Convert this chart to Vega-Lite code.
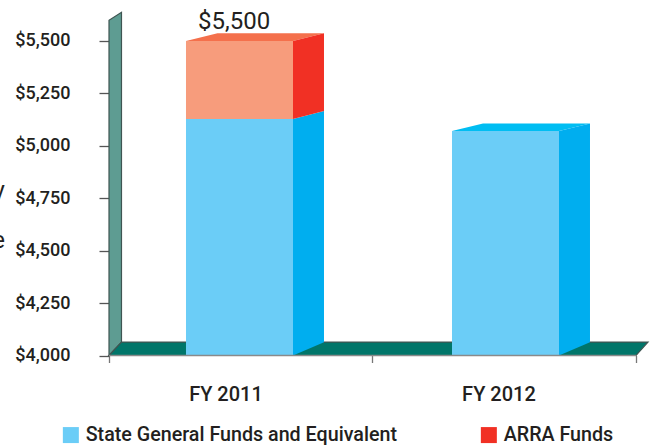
{"$schema":"https://vega.github.io/schema/vega-lite/v6.json","width":657,"height":446,"autosize":{"type":"none"},"padding":0,"background":"#ffffff","view":{"stroke":null},
"datasets":{
"vertical":[
{"face":"s1-side","part":"State side","x":0.6983,"low":4000,"high":5128},{"face":"s1-side","part":"State side","x":0.8159,"low":4063,"high":5166},
{"face":"a1-side","part":"ARRA Funds","x":0.6983,"low":5128,"high":5500},{"face":"a1-side","part":"ARRA Funds","x":0.8159,"low":5166,"high":5537},
{"face":"s2-side","part":"State side","x":1.7078,"low":4000,"high":5071},{"face":"s2-side","part":"State side","x":1.8254,"low":4063,"high":5107},
{"face":"s1-front","part":"State General Funds and Equivalent","x":0.2922,"low":4000,"high":5128},{"face":"s1-front","part":"State General Funds and Equivalent","x":0.6983,"low":4000,"high":5128},
{"face":"a1-front","part":"ARRA front","x":0.2922,"low":5128,"high":5500},{"face":"a1-front","part":"ARRA front","x":0.6983,"low":5128,"high":5500},
{"face":"s2-front","part":"State General Funds and Equivalent","x":1.3017,"low":4000,"high":5071},{"face":"s2-front","part":"State General Funds and Equivalent","x":1.7078,"low":4000,"high":5071}
],
"tops":[
{"face":"a1-top","part":"ARRA top","left":0.2922,"right":0.6983,"v":5500},{"face":"a1-top","part":"ARRA top","left":0.4118,"right":0.8159,"v":5537},
{"face":"s2-top","part":"State top","left":1.3017,"right":1.7078,"v":5071},{"face":"s2-top","part":"State top","left":1.4194,"right":1.8254,"v":5107}
],
"wall":[{"x":0,"low":4000,"high":5599},{"x":0.0474,"low":4064,"high":5637}],
"floor":[{"left":0,"right":2,"v":4000},{"left":0.0474,"right":2.0455,"v":4064}]
},
"encoding":{
"x":{"field":"x","type":"quantitative","scale":{"domain":[-0.41366,2.0797],"nice":false,"zero":false},
"axis":{"title":null,"grid":false,"domain":false,"offset":-90.5,"values":[0,0.442,1,1.478,2],"tickSize":7,"tickColor":"#777777","tickWidth":1.3,"tickOpacity":{"condition":{"test":"datum.value==0.442||datum.value==1.478","value":0},"value":1},"labelExpr":"datum.value==0.442?'FY 2011':datum.value==1.478?'FY 2012':''","labelFont":"Roboto","labelFontWeight":500,"labelFontSize":20,"labelColor":"#231f20","labelPadding":22,"labelOverlap":false,"labelFlush":false}},
"y":{"field":"v","type":"quantitative","scale":{"domain":[3568.4,5695.5],"nice":false,"zero":false},
"axis":{"title":null,"grid":false,"domain":false,"offset":-109,"values":[4000,4250,4500,4750,5000,5250,5500],"format":"$,.0f","tickSize":10,"tickColor":"#555555","tickWidth":1.3,"labelFont":"Roboto","labelFontWeight":500,"labelFontSize":18,"labelColor":"#231f20","labelPadding":29,"labelOverlap":false}}
},
"layer":[
{"data":{"name":"wall"},"mark":{"type":"area","fill":"#5e9c92","stroke":"#3f5552","strokeWidth":1.2,"opacity":1},"encoding":{"y":{"field":"low","type":"quantitative"},"y2":{"field":"high"}}},
{"data":{"name":"floor"},"mark":{"type":"area","orient":"horizontal","fill":"#00766a","stroke":"#3f5552","strokeWidth":1.2,"opacity":1},"encoding":{"x":{"field":"left","type":"quantitative"},"x2":{"field":"right"}}},
{"data":{"name":"tops"},"mark":{"type":"area","orient":"horizontal","opacity":1},"encoding":{"x":{"field":"left","type":"quantitative"},"x2":{"field":"right"},"detail":{"field":"face"},
"color":{"field":"part","type":"nominal","scale":{"domain":["State General Funds and Equivalent","ARRA Funds","State side","State top","ARRA front","ARRA top"],"range":["#6bcdf7","#f13024","#00aeef","#00bdf2","#f79c7c","#f4704c"]}}}},
{"data":{"name":"vertical"},"mark":{"type":"area","opacity":1},"encoding":{"y":{"field":"low","type":"quantitative"},"y2":{"field":"high"},"detail":{"field":"face"},
"color":{"field":"part","type":"nominal","scale":{"domain":["State General Funds and Equivalent","ARRA Funds","State side","State top","ARRA front","ARRA top"],"range":["#6bcdf7","#f13024","#00aeef","#00bdf2","#f79c7c","#f4704c"]},
"legend":{"values":["State General Funds and Equivalent","ARRA Funds"],"title":null,"orient":"none","legendX":61,"legendY":425,"direction":"horizontal","columns":2,"columnPadding":82,"symbolType":"square","symbolSize":256,"symbolStrokeWidth":0,"symbolOpacity":1,"labelOffset":5,"labelFont":"Roboto","labelFontWeight":500,"labelFontSize":19.7,"labelColor":"#231f20","labelLimit":400,"padding":0}}}},
{"data":{"values":[{"a":0,"b":2,"v":4000}]},"mark":{"type":"rule","color":"#8a8a8a","strokeWidth":1.5},"encoding":{"x":{"field":"a","type":"quantitative"},"x2":{"field":"b"}}},
{"data":{"values":[{"x":0.4745,"v":5500,"label":"$5,500"}]},"mark":{"type":"text","font":"Roboto","fontSize":24,"color":"#231f20","align":"center","baseline":"alphabetic","dy":-12},"encoding":{"text":{"field":"label"}}},
{"data":{"values":[{"x":-0.395,"v":4751,"label":"y"},{"x":-0.395,"v":4513,"label":"e"}]},"mark":{"type":"text","font":"Roboto","fontSize":24,"color":"#231f20","align":"right","baseline":"alphabetic"},"encoding":{"text":{"field":"label"}}}
]}
